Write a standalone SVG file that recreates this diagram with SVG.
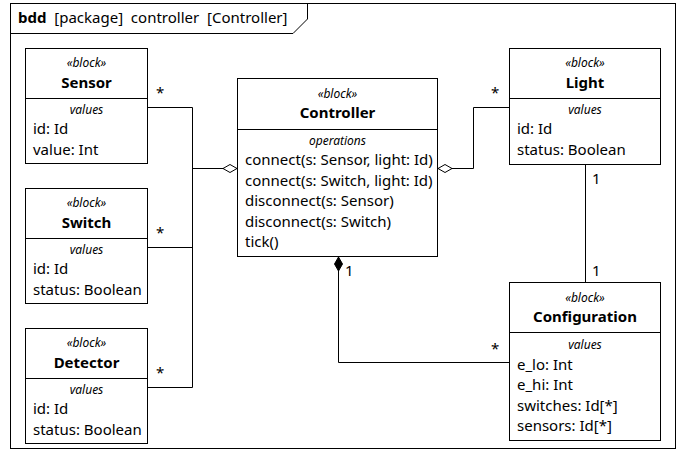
<svg xmlns="http://www.w3.org/2000/svg" width="684" height="462" viewBox="0 0 684 462">
  <style>
    text { font-family: "Noto Sans", "Open Sans", sans-serif; fill: #000; }
    .box { fill: #fff; stroke: #000; stroke-width: 1; }
    .sep { stroke: #000; stroke-width: 1; }
    .st { font-size: 12px; font-style: italic; text-anchor: middle; }
    .nm { font-size: 15px; font-weight: bold; text-anchor: middle; }
    .cmp { font-size: 12px; font-style: italic; text-anchor: middle; }
    .it { font-size: 15px; }
    .mult { font-size: 15px; }
    .conn { fill: none; stroke: #000; stroke-width: 1; }
  </style>
  <defs>
    <marker id="agg" markerWidth="16" markerHeight="10" refX="15" refY="5" orient="auto" markerUnits="userSpaceOnUse">
      <path d="M1,5 L8,1 L15,5 L8,9 Z" fill="#fff" stroke="#000" stroke-width="1"/>
    </marker>
    <marker id="comp" markerWidth="16" markerHeight="10" refX="15" refY="5" orient="auto" markerUnits="userSpaceOnUse">
      <path d="M1,5 L8,1 L15,5 L8,9 Z" fill="#000" stroke="#000" stroke-width="1"/>
    </marker>
  </defs>
  <rect x="0" y="0" width="684" height="462" fill="#fff"/>

  <!-- diagram frame -->
  <g id="frame">
    <rect x="10.5" y="3.5" width="665" height="445" fill="none" stroke="#000"/>
    <path d="M10.5,33.5 H293 L307.5,19 V3.5" fill="none" stroke="#000"/>
    <text x="18" y="23" font-size="15px" xml:space="preserve"><tspan font-weight="bold">bdd</tspan>  [package]  controller  [Controller]</text>
  </g>

  <!-- connectors -->
  <g id="connectors">
    <path class="conn" d="M148,107.5 H192.5 V387.5 H148" />
    <path class="conn" d="M148,247.5 H192.5" />
    <path class="conn" d="M192.5,168.5 H237" marker-end="url(#agg)"/>
    <path class="conn" d="M509,107.5 H473.5 V168.5 H438" marker-end="url(#agg)"/>
    <path class="conn" d="M585.5,165 V282" />
    <path class="conn" d="M509,362.5 H338.5 V257" marker-end="url(#comp)"/>
    <text class="mult" x="156" y="98">*</text>
    <text class="mult" x="156" y="238">*</text>
    <text class="mult" x="156" y="378">*</text>
    <text class="mult" x="491" y="98">*</text>
    <text class="mult" x="592" y="184">1</text>
    <text class="mult" x="592" y="276">1</text>
    <text class="mult" x="345" y="276">1</text>
    <text class="mult" x="491" y="354">*</text>
  </g>

  <g id="sensor">
    <rect class="box" x="25.5" y="48.5" width="122" height="115"/>
    <line class="sep" x1="25.5" y1="98.5" x2="147.5" y2="98.5"/>
    <text class="st" x="86.5" y="67">«block»</text>
    <text class="nm" x="86.5" y="88">Sensor</text>
    <text class="cmp" x="86.5" y="114">values</text>
    <text class="it" x="33" y="134">id: Id</text>
    <text class="it" x="33" y="155">value: Int</text>
  </g>

  <g id="switch">
    <rect class="box" x="25.5" y="188.5" width="122" height="115"/>
    <line class="sep" x1="25.5" y1="238.5" x2="147.5" y2="238.5"/>
    <text class="st" x="86.5" y="207">«block»</text>
    <text class="nm" x="86.5" y="228">Switch</text>
    <text class="cmp" x="86.5" y="254">values</text>
    <text class="it" x="33" y="274">id: Id</text>
    <text class="it" x="33" y="295">status: Boolean</text>
  </g>

  <g id="detector">
    <rect class="box" x="25.5" y="328.5" width="122" height="115"/>
    <line class="sep" x1="25.5" y1="378.5" x2="147.5" y2="378.5"/>
    <text class="st" x="86.5" y="347">«block»</text>
    <text class="nm" x="86.5" y="368">Detector</text>
    <text class="cmp" x="86.5" y="394">values</text>
    <text class="it" x="33" y="414">id: Id</text>
    <text class="it" x="33" y="435">status: Boolean</text>
  </g>

  <g id="controller">
    <rect class="box" x="237.5" y="78.5" width="200" height="178"/>
    <line class="sep" x1="237.5" y1="129.5" x2="437.5" y2="129.5"/>
    <text class="st" x="337.5" y="98">«block»</text>
    <text class="nm" x="337.5" y="118">Controller</text>
    <text class="cmp" x="337.5" y="145">operations</text>
    <text class="it" x="245" y="165">connect(s: Sensor, light: Id)</text>
    <text class="it" x="245" y="186">connect(s: Switch, light: Id)</text>
    <text class="it" x="245" y="206">disconnect(s: Sensor)</text>
    <text class="it" x="245" y="227">disconnect(s: Switch)</text>
    <text class="it" x="245" y="247">tick()</text>
  </g>

  <g id="light">
    <rect class="box" x="509.5" y="48.5" width="151" height="116"/>
    <line class="sep" x1="509.5" y1="98.5" x2="660.5" y2="98.5"/>
    <text class="st" x="585" y="67">«block»</text>
    <text class="nm" x="585" y="88">Light</text>
    <text class="cmp" x="585" y="114">values</text>
    <text class="it" x="517" y="134">id: Id</text>
    <text class="it" x="517" y="155">status: Boolean</text>
  </g>

  <g id="configuration">
    <rect class="box" x="509.5" y="282.5" width="151" height="158"/>
    <line class="sep" x1="509.5" y1="332.5" x2="660.5" y2="332.5"/>
    <text class="st" x="585" y="302">«block»</text>
    <text class="nm" x="585" y="322">Configuration</text>
    <text class="cmp" x="585" y="349">values</text>
    <text class="it" x="517" y="370">e_lo: Int</text>
    <text class="it" x="517" y="390">e_hi: Int</text>
    <text class="it" x="517" y="411">switches: Id[*]</text>
    <text class="it" x="517" y="431">sensors: Id[*]</text>
  </g>
</svg>
